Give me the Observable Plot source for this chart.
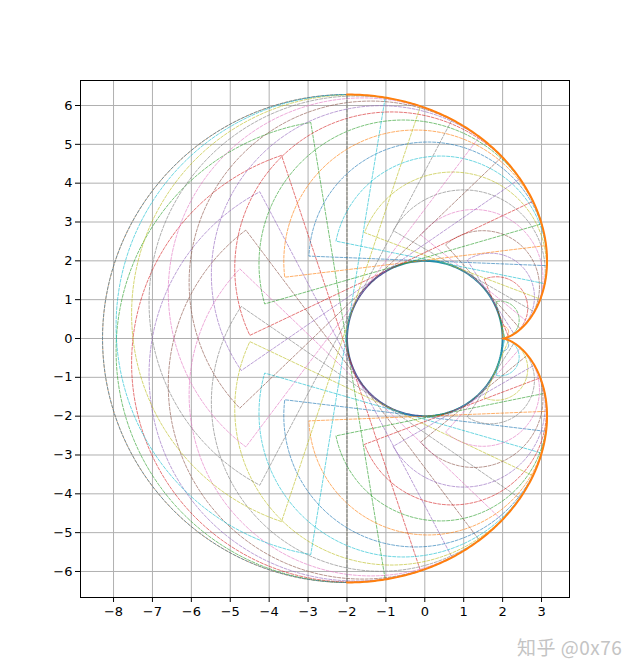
<!DOCTYPE html>
<html>
<head>
<meta charset="utf-8">
<script src="https://cdn.jsdelivr.net/npm/d3@7"></script>
<script src="https://cdn.jsdelivr.net/npm/@observablehq/plot@0.6"></script>
<style>
  html, body { margin: 0; padding: 0; background: #ffffff; }
  #wrap { position: relative; width: 632px; height: 670px; }
  #wm { position: absolute; left: 517px; top: 633px; font-family: "Noto Sans CJK SC", "Noto Sans", sans-serif; font-size: 19px; color: #c4c4c4; letter-spacing: 0.5px; }
</style>
</head>
<body>
<div id="wrap"><div id="chart"></div><div id="wm">知乎 @0x76</div></div>
<script>
// ---- data ----
const baseRadius = [2];
// unwound angle (rad) of each construction frame, drawn in this order (negative = lower half)
const frameT = [-3.1416, -2.9805, -2.8194, -2.6583, -2.4972, -2.3361, -2.1749, -2.0138, -1.8527, -1.6916,
                -1.5306, -1.3694, -1.2083, -1.0472, -0.8861, -0.7250, -0.5639, -0.4028, -0.2417, -0.0806,
                 0.0806,  0.2417,  0.4028,  0.5639,  0.7250,  0.8861,  1.0472,  1.2083,  1.3694,  1.5306,
                 1.6916,  1.8527,  2.0138,  2.1749,  2.3361,  2.4972,  2.6583,  2.8194,  2.9805,  3.1416];
const palette = ["#1f77b4", "#ff7f0e", "#2ca02c", "#d62728", "#9467bd", "#8c564b", "#e377c2", "#7f7f7f", "#bcbd22", "#17becf"];
const frameColors = [
  "#ff7f0e", "#2ca02c", "#d62728", "#9467bd", "#8c564b", "#e377c2", "#7f7f7f", "#bcbd22", "#17becf", "#1f77b4",
  "#ff7f0e", "#2ca02c", "#d62728", "#9467bd", "#8c564b", "#e377c2", "#7f7f7f", "#bcbd22", "#17becf", "#1f77b4",
  "#ff7f0e", "#2ca02c", "#d62728", "#9467bd", "#8c564b", "#e377c2", "#7f7f7f", "#bcbd22", "#17becf", "#1f77b4",
  "#ff7f0e", "#2ca02c", "#d62728", "#9467bd", "#8c564b", "#e377c2", "#7f7f7f", "#bcbd22", "#17becf", "#1f77b4"];
const involuteRange = [-3.1416, 3.1416];
const involuteColor = ["#ff7f0e"];
const circleArcStart = [-93, 120];   // degrees
const circleArcEnd = [120, 267];
const circleArcColor = ["#2b8a9c", "#4a5894"];
const xTicks = [-8, -7, -6, -5, -4, -3, -2, -1, 0, 1, 2, 3];
const yTicks = [-6, -5, -4, -3, -2, -1, 0, 1, 2, 3, 4, 5, 6];

// ---- geometry built from the data ----
const R = baseRadius[0];
const circlePts = [];
circleArcStart.forEach((a0, i) => {
  const a1 = circleArcEnd[i];
  const n = 120;
  for (let j = 0; j <= n; j++) {
    const a = (a0 + (a1 - a0) * j / n) * Math.PI / 180;
    circlePts.push({x: R * Math.cos(a), y: R * Math.sin(a), seg: i, color: circleArcColor[i]});
  }
});

// each frame: the rolling tangent line (length 4t, centred on the contact point)
// and the half circle of radius 2t around the contact point
const framePts = [];
frameT.forEach((tt, k) => {
  const s = tt < 0 ? -1 : 1;
  const t = Math.abs(tt);
  const px = R * Math.cos(t), py = R * Math.sin(t);
  const rr = R * t;
  const n = 90;
  const pts = [];
  for (let j = 0; j <= n; j++) {
    const th = t - Math.PI / 2 + Math.PI * j / n;
    pts.push([px + rr * Math.cos(th), py + rr * Math.sin(th)]);
  }
  pts.push(pts[0]);
  pts.forEach(([x, y]) => framePts.push({x, y: s * y, id: k, color: frameColors[k]}));
});

const invPts = [];
{
  const n = 600;
  for (let j = 0; j <= n; j++) {
    const t = involuteRange[0] + (involuteRange[1] - involuteRange[0]) * j / n;
    invPts.push({x: R * (Math.cos(t) + t * Math.sin(t)), y: R * (Math.sin(t) - t * Math.cos(t))});
  }
}

const chart = Plot.plot({
  width: 632,
  height: 670,
  marginLeft: 80,
  marginRight: 63,
  marginTop: 80,
  marginBottom: 73,
  x: {domain: [-8.849, 3.719], label: null},
  y: {domain: [-6.67, 6.644], label: null},
  color: {type: "identity"},
  style: {fontFamily: "DejaVu Sans, sans-serif", fontSize: "13px", color: "#000", background: "#fff"},
  marks: [
    Plot.gridX(xTicks, {stroke: "#b0b0b0", strokeOpacity: 1, strokeWidth: 1}),
    Plot.gridY(yTicks, {stroke: "#b0b0b0", strokeOpacity: 1, strokeWidth: 1}),
    Plot.line(circlePts, {x: "x", y: "y", z: "seg", stroke: "color", strokeWidth: 2}),
    Plot.line(framePts, {x: "x", y: "y", z: "id", stroke: "color", strokeWidth: 0.7, strokeOpacity: 0.9, strokeDasharray: "3,1.6"}),
    Plot.line(invPts, {x: "x", y: "y", stroke: involuteColor[0], strokeWidth: 2}),
    Plot.axisX(xTicks, {tickSize: 5, tickPadding: 4, label: null, stroke: "#000"}),
    Plot.axisY(yTicks, {tickSize: 5, tickPadding: 3, label: null, stroke: "#000"}),
    Plot.frame({stroke: "#000", strokeWidth: 1})
  ]
});
document.getElementById("chart").appendChild(chart);
</script>
</body>
</html>
